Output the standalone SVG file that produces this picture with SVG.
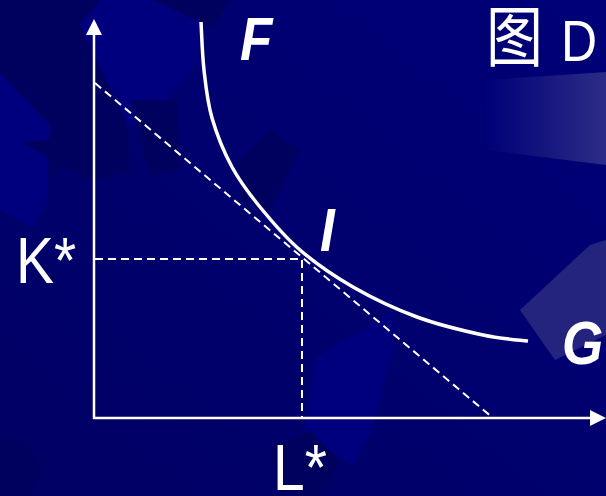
<svg xmlns="http://www.w3.org/2000/svg" width="606" height="496" viewBox="0 0 606 496">
  <defs>
    <linearGradient id="bg" x1="1" y1="0" x2="0" y2="1">
      <stop offset="0" stop-color="#000078"/>
      <stop offset="1" stop-color="#000064"/>
    </linearGradient>
    <linearGradient id="band" x1="0" y1="0" x2="1" y2="0">
      <stop offset="0" stop-color="#000078"/>
      <stop offset="1" stop-color="#2c2c86"/>
    </linearGradient>
    <style>
      .axis { stroke: #ffffff; stroke-width: 2.5; fill: none; }
      .head { fill: #ffffff; }
      .dash { stroke: #ffffff; stroke-width: 2; fill: none; stroke-dasharray: 8 5; }
      .curve { stroke: #ffffff; stroke-width: 3.5; fill: none; stroke-linecap: butt; }
      .lab { fill: #ffffff; font-family: "Liberation Sans", Arial, "Noto Sans CJK SC", sans-serif; font-size: 57px; }
      .pt { fill: #ffffff; font-family: "Liberation Sans", Arial, sans-serif; font-size: 53px; font-weight: bold; font-style: italic; }
      .light { fill: #00007e; }
      .dark { fill: #00005e; }
    </style>
  </defs>

  <g id="background">
    <rect x="0" y="0" width="606" height="496" fill="url(#bg)"/>
    <polygon class="dark" points="0,0 100,0 80,25 128,125 85,150 0,215"/>
    <polygon class="light" points="0,73 50,125 47,203 33,227 0,210"/>
    <polygon class="dark" points="22,143 128,127 130,170 92,182"/>
    <polygon class="dark" points="153,0 230,0 213,28 200,22"/>
    <polygon class="light" points="100,0 153,0 200,22 198,60 150,120 128,125 80,25"/>
    <polygon class="dark" points="130,100 177,100 180,170 150,175"/>
    <polygon class="dark" points="240,160 270,130 300,150 270,210 240,200"/>
    <polygon class="light" points="316,358 393,311 393,348 371,433 353,465 303,441"/>
    <polygon fill="url(#band)" points="486,80 606,72 606,165 486,150"/>
    <polygon fill="#24247e" points="520,310 590,245 606,240 606,335 555,360"/>
    <polygon class="dark" points="0,440 25,442 42,470 30,496 0,496"/>
    <polygon class="dark" points="270,450 310,430 340,460 320,496 280,496"/>
  </g>

  <g id="axes">
    <line class="axis" x1="94" y1="419" x2="94" y2="33"/>
    <polygon class="head" points="94,19 86,35 102,35"/>
    <line class="axis" x1="93" y1="418" x2="592" y2="418"/>
    <polygon class="head" points="606,418 590,410 590,426"/>
  </g>

  <g id="connectors">
    <line class="dash" x1="95" y1="83" x2="493" y2="418"/>
    <polyline class="dash" points="95,259 302,259 302,418"/>
    <path id="isoquant" class="curve" d="M201,22 C201.5,30 202.2,54 204,70 C205.8,86 207.3,101.8 212,118 C216.7,134.2 224,152.2 232,167 C240,181.8 248.7,193.2 260,207 C271.3,220.8 284.5,236.7 300,250 C315.5,263.3 333.5,275.8 353,287 C372.5,298.2 395.3,309 417,317 C438.7,325 464.5,331 483,335 C501.5,339 520.5,340 528,341"/>
  </g>

  <g id="labels">
    <text class="pt" transform="translate(240,60) scale(1,1.15)">F</text>
    <text class="pt" transform="translate(320,251) scale(1,1.15)">I</text>
    <text class="pt" transform="translate(562,364) scale(1,1.15)">G</text>
    <text class="lab" transform="translate(16,283) scale(1,1.15)">K*</text>
    <text class="lab" transform="translate(273,490) scale(1,1.15)" font-size="56">L*</text>
    <text class="lab" transform="translate(486,60.5) scale(1,1.15)" font-size="55">图 <tspan x="75" font-size="50">D</tspan></text>
  </g>
</svg>
